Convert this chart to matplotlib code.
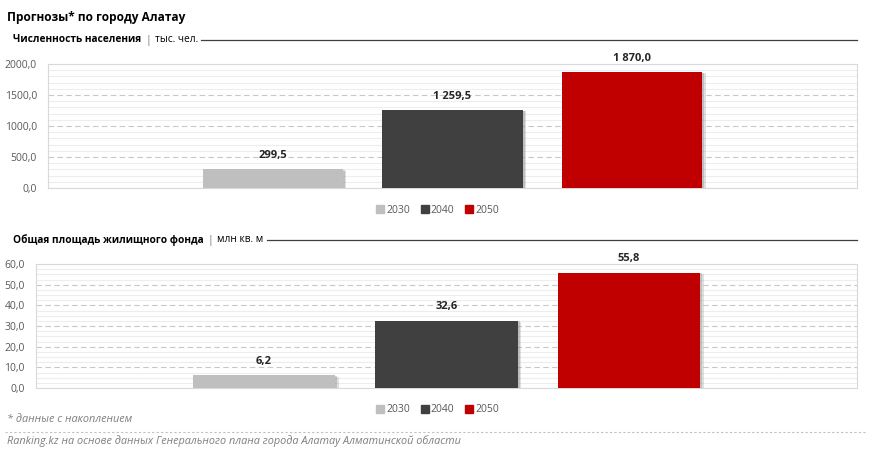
import matplotlib.pyplot as plt
import matplotlib.patheffects as pe
from matplotlib.ticker import MultipleLocator, FuncFormatter
from matplotlib.lines import Line2D

plt.rcParams['font.family'] = ['Open Sans', 'DejaVu Sans']

years = ['2030', '2040', '2050']
colors = ['#bfbfbf', '#404040', '#c00000']
population = [299.5, 1259.5, 1870.0]
housing = [6.2, 32.6, 55.8]

W, H = 872, 454
fig = plt.figure(figsize=(W / 100, H / 100), dpi=100)
renderer = fig.canvas.get_renderer()


def fmt_num(v):
    s = f'{v:,.1f}'
    return s.replace(',', ' ').replace('.', ',')


def px(x0, y0, x1, y1):
    # пиксели (от верхнего левого угла) -> координаты фигуры
    return [x0 / W, 1 - y1 / H, (x1 - x0) / W, (y1 - y0) / H]


def subtitle(y, bold_part, unit):
    t = fig.text(13 / W, 1 - y / H, bold_part, fontsize=7.3, fontweight='bold',
                 va='center', ha='left', color='#000000')
    x = t.get_window_extent(renderer).x1 + 4
    t2 = fig.text(x / W, 1 - y / H, '|', fontsize=7.5, color='#a6a6a6', va='center', ha='left',
                  fontweight='bold')
    x = t2.get_window_extent(renderer).x1 + 4
    t3 = fig.text(x / W, 1 - y / H, unit, fontsize=7.3, va='center', ha='left', color='#000000')
    x = t3.get_window_extent(renderer).x1 + 3
    fig.add_artist(Line2D([x / W, 857 / W], [1 - y / H, 1 - y / H], color='#404040', lw=0.9))


def draw_chart(rect, values, ymax, major, minor, legend_y):
    ax = fig.add_axes(px(*rect))
    ax.set_ylim(0, ymax)
    ax.set_xlim(-1.25, 3.25)
    ax.yaxis.set_major_locator(MultipleLocator(major))
    ax.yaxis.set_minor_locator(MultipleLocator(minor))
    ax.grid(which='minor', axis='y', color='#ededed', lw=0.8, ls='-')
    ax.grid(which='major', axis='y', color='#c8c8c8', lw=0.8, ls=(0, (5, 3)))
    ax.set_axisbelow(True)
    for s in ax.spines.values():
        s.set_color('#d9d9d9')
    ax.tick_params(axis='both', which='both', length=0)
    ax.set_xticks([])
    ax.tick_params(axis='y', labelsize=7.5, labelcolor='#595959', pad=8)
    ax.yaxis.set_major_formatter(FuncFormatter(lambda v, p: f'{v:.1f}'.replace('.', ',')))
    bars = ax.bar(range(3), values, width=0.78, color=colors, zorder=3)
    for b in bars:
        b.set_path_effects([pe.SimplePatchShadow(offset=(2.5, -1), shadow_rgbFace='#999999', alpha=0.3),
                            pe.SimplePatchShadow(offset=(1.5, -0.5), shadow_rgbFace='#777777', alpha=0.3),
                            pe.Normal()])
    for i, v in enumerate(values):
        ax.annotate(fmt_num(v), (i, v), xytext=(0, 6), textcoords='offset points',
                    ha='center', va='bottom', fontsize=8, fontweight='bold', color='#262626')
    handles = [Line2D([], [], marker='s', ls='', color=c, markersize=5.5) for c in colors]
    fig.legend(handles, years, loc='center', bbox_to_anchor=(437 / W, 1 - legend_y / H),
               ncol=3, frameon=False, fontsize=7.5, labelcolor='#595959',
               handletextpad=0.1, columnspacing=0.9, handlelength=1.0)
    return ax


fig.text(7 / W, 1 - 17 / H, 'Прогнозы* по городу Алатау', fontsize=8.6, fontweight='bold',
         va='center', ha='left', color='#000000')

subtitle(40, 'Численность населения', 'тыс. чел.')
subtitle(240, 'Общая площадь жилищного фонда', 'млн кв. м')

draw_chart((48, 64, 857, 188), population, 2000, 500, 100, 210)
draw_chart((36, 264, 857, 388), housing, 60, 10, 2.5, 410)

fig.text(7 / W, 1 - 419 / H, '* данные с накоплением', fontsize=7.8, style='italic',
         color='#7f7f7f', va='center', ha='left')
fig.add_artist(Line2D([5 / W, 867 / W], [1 - 432 / H, 1 - 432 / H], color='#bfbfbf', lw=0.8,
                      ls=(0, (2, 2))))
fig.text(7 / W, 1 - 441 / H,
         'Ranking.kz на основе данных Генерального плана города Алатау Алматинской области',
         fontsize=7.8, style='italic', color='#7f7f7f', va='center', ha='left')

fig.savefig('out.png', dpi=100)
